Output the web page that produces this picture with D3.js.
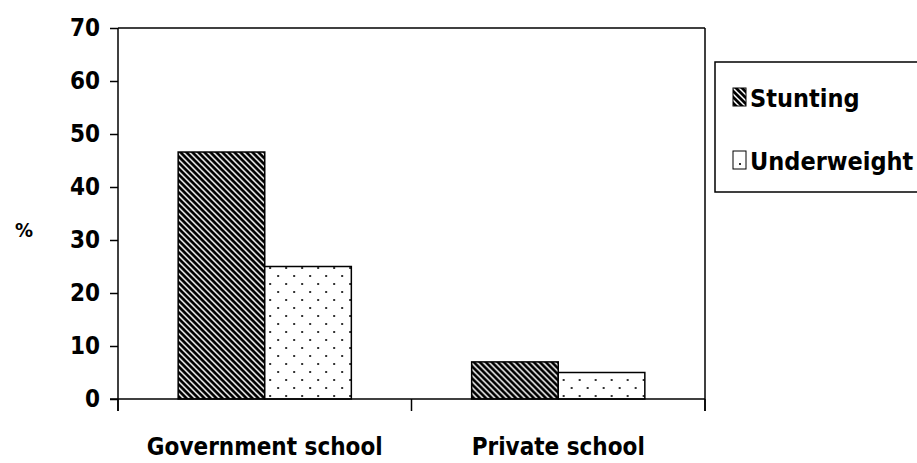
<!DOCTYPE html>
<html><head><meta charset="utf-8">
<script src="https://cdn.jsdelivr.net/npm/d3@7"></script>
<style>
html,body{margin:0;padding:0;background:#fff;}
svg{display:block;}
text{font-family:"DejaVu Sans Condensed","DejaVu Sans",sans-serif;font-weight:bold;fill:#000;}
</style></head>
<body>
<svg id="chart" width="917" height="463"></svg>
<script>
const categories = ["Government school", "Private school"];
const seriesNames = ["Stunting", "Underweight"];
const stunting = [46.6, 7];
const underweight = [25, 5];
const yTicks = [0, 10, 20, 30, 40, 50, 60, 70];
const yLabel = "%";

const svg = d3.select("#chart");
const mLeft = 118, mRight = 705, mTop = 28, mBottom = 399;

const defs = svg.append("defs");
const hatch = defs.append("pattern").attr("id","hatch").attr("patternUnits","userSpaceOnUse")
  .attr("width",6).attr("height",6);
hatch.append("rect").attr("width",6).attr("height",6).attr("fill","#fff");
hatch.append("path").attr("d","M-1,-1 L7,7 M-4,2 L4,10 M2,-4 L10,4")
  .attr("stroke","#000").attr("stroke-width",2.8);
const dots = defs.append("pattern").attr("id","dots").attr("patternUnits","userSpaceOnUse")
  .attr("width",16).attr("height",16);
dots.append("rect").attr("width",16).attr("height",16).attr("fill","#fff");
dots.append("rect").attr("x",3).attr("y",3).attr("width",2).attr("height",2).attr("fill","#333");
dots.append("rect").attr("x",11).attr("y",11).attr("width",2).attr("height",2).attr("fill","#333");
const fills = ["url(#hatch)","url(#dots)"];

const x0 = d3.scaleBand().domain(categories).range([mLeft,mRight]).paddingInner(0.41).paddingOuter(0.205);
const x1 = d3.scaleBand().domain(seriesNames).range([0,x0.bandwidth()]);
const y = d3.scaleLinear().domain([0,70]).range([mBottom,mTop]);

// frame top & right
svg.append("line").attr("x1",mLeft).attr("x2",mRight).attr("y1",mTop).attr("y2",mTop).attr("stroke","#000").attr("stroke-width",1.5);
svg.append("line").attr("x1",mRight).attr("x2",mRight).attr("y1",mTop).attr("y2",mBottom+12).attr("stroke","#000").attr("stroke-width",1.5);

// bars
const data = categories.map((c,i)=>({cat:c, vals:[stunting[i], underweight[i]]}));
const g = svg.append("g").selectAll("g").data(data).join("g")
  .attr("transform",d=>`translate(${x0(d.cat)},0)`);
g.selectAll("rect").data(d=>d.vals.map((v,j)=>({v,s:seriesNames[j],j})))
  .join("rect")
  .attr("x",d=>x1(d.s)).attr("width",x1.bandwidth())
  .attr("y",d=>y(d.v)).attr("height",d=>mBottom-y(d.v))
  .attr("fill",d=>fills[d.j]).attr("stroke","#000").attr("stroke-width",1.5);

// y axis
const yAxis = d3.axisLeft(y).tickValues(yTicks).tickSize(8).tickPadding(10);
const ya = svg.append("g").attr("transform",`translate(${mLeft},0)`).call(yAxis);
ya.attr("font-family",null).attr("font-size",null);
ya.select(".domain").attr("d",`M0,${mTop}V${mBottom+12}`).attr("stroke","#000").attr("stroke-width",1.5);
ya.selectAll(".tick line").attr("stroke","#000").attr("stroke-width",1.5);
ya.selectAll(".tick text").style("font-size","24px").attr("fill","#000");

// x axis
const xa = svg.append("g");
xa.append("line").attr("x1",mLeft-8).attr("x2",mRight).attr("y1",mBottom).attr("y2",mBottom).attr("stroke","#000").attr("stroke-width",1.5);
const boundaries = [mLeft, (mLeft+mRight)/2, mRight];
xa.selectAll("line.t").data(boundaries).join("line").attr("class","t")
  .attr("x1",d=>d).attr("x2",d=>d).attr("y1",mBottom).attr("y2",mBottom+12)
  .attr("stroke","#000").attr("stroke-width",1.5);
xa.selectAll("text").data(categories).join("text")
  .attr("x",d=>x0(d)+x0.bandwidth()/2).attr("y",455).attr("text-anchor","middle")
  .style("font-size","24px").text(d=>d);

// y label
svg.append("text").attr("x",24).attr("y",237).attr("text-anchor","middle").style("font-size","20px").text(yLabel);

// legend
const lg = svg.append("g");
lg.append("rect").attr("x",715).attr("y",62).attr("width",240).attr("height",130)
  .attr("fill","#fff").attr("stroke","#000").attr("stroke-width",1.5);
const rows = [107, 170];
seriesNames.forEach((s,i)=>{
  lg.append("rect").attr("x",733).attr("y",rows[i]-19).attr("width",13).attr("height",18)
    .attr("fill",fills[i]).attr("stroke","#000").attr("stroke-width",1);
  lg.append("text").attr("x",750).attr("y",rows[i]).style("font-size","25px").text(s);
});
</script>
</body></html>
